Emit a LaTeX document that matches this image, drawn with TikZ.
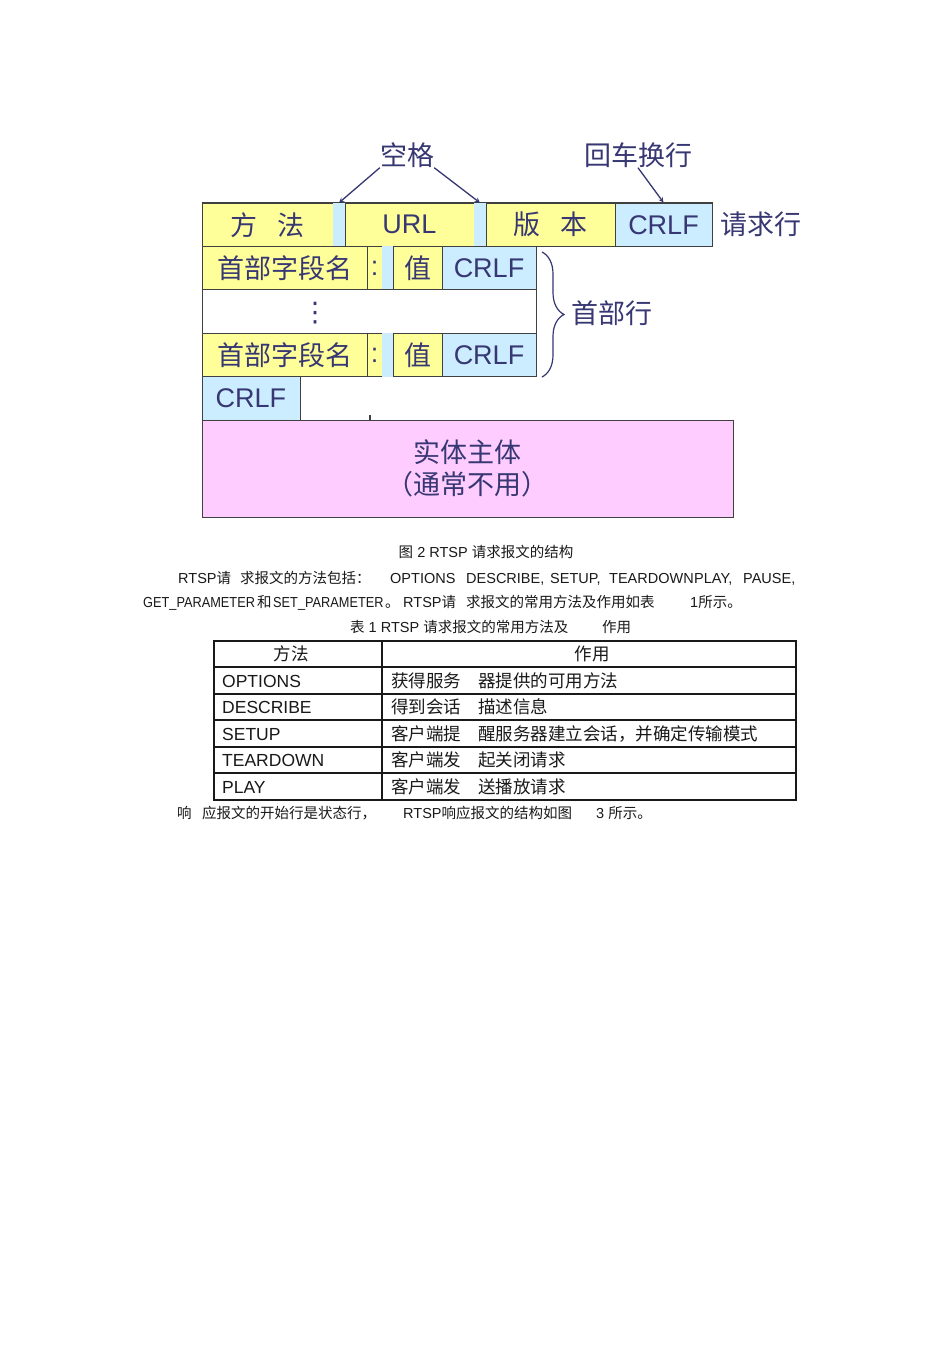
\documentclass[tikz,border=0pt]{standalone}
\usepackage{fontspec}
\setmainfont{Liberation Sans}
\newfontfamily\cjk{Noto Sans CJK SC}
\newfontfamily\symfont{DejaVu Sans}
\usepackage{graphicx}
\usepackage{tikz}
\usetikzlibrary{arrows, decorations.pathreplacing}
\definecolor{boxyellow}{RGB}{255,255,153}
\definecolor{boxblue}{RGB}{204,236,255}
\definecolor{boxpink}{RGB}{255,204,255}
\definecolor{navy}{RGB}{55,55,115}
\definecolor{edge}{RGB}{64,64,64}
\definecolor{ink}{RGB}{25,25,25}
\newcommand{\zh}[1]{{\cjk #1}}
\newcommand{\narrow}[1]{\scalebox{0.88}[1]{#1}}
\tikzstyle{ybox} = [rectangle, inner sep=0pt, minimum height=43.4pt, text centered, draw=edge, line width=1pt, fill=boxyellow, text=navy, font=\fontsize{27}{32}\selectfont]
\tikzstyle{bbox} = [ybox, fill=boxblue]
\tikzstyle{gapbox} = [rectangle, inner sep=0pt, minimum height=43.4pt, fill=boxblue]
\tikzstyle{navytext} = [inner sep=0pt, text=navy, font=\fontsize{27}{32}\selectfont]
\tikzstyle{arrow} = [navy, line width=1.3pt, ->, >=stealth]
\tikzstyle{para} = [anchor=base west, inner sep=0pt, text=ink, font=\fontsize{14.5}{17}\selectfont]
\tikzstyle{tabcell} = [anchor=base west, inner sep=0pt, text=ink, font=\fontsize{17.5}{20}\selectfont]

\begin{document}
\begin{tikzpicture}[x=1pt, y=-1pt]
\fill [white] (0,0) rectangle (950,1345);
\useasboundingbox (0,0) rectangle (950,1345);

% request line
\node (fangfa) [ybox, minimum width=131pt] at (267.5,224.7) {\zh{方\hspace{21pt}法}};
\node (gap1) [gapbox, minimum width=12pt] at (339,224.7) {};
\node (url) [ybox, minimum width=129pt] at (409.5,224.7) {URL};
\node (gap2) [gapbox, minimum width=12pt] at (480,224.7) {};
\node (banben) [ybox, minimum width=129pt] at (550.5,224.7) {\zh{版\hspace{20pt}本}};
\node (crlf1) [bbox, minimum width=97pt] at (663.5,224.7) {CRLF};
\node (qqh) [navytext, anchor=west] at (720,224.7) {\zh{请求行}};
\draw [edge, line width=1pt] (fangfa.north west) -- (crlf1.north east);

% header lines
\node (name1) [ybox, minimum width=165pt] at (284.5,268.1) {\zh{首部字段名}};
\node (colon1) [ybox, minimum width=15pt] at (374.5,268.1) {:};
\node (gap3) [gapbox, minimum width=11pt] at (387.5,268.1) {};
\node (val1) [ybox, minimum width=49pt] at (417.5,268.1) {\zh{值}};
\node (crlf2) [bbox, minimum width=94pt] at (489,268.1) {CRLF};
\node (dots) [ybox, fill=white, minimum width=334pt] at (369,311.5) {};
\node (vd) [navytext] at (315,313) {\symfont ⋮};
\node (name2) [ybox, minimum width=165pt] at (284.5,354.9) {\zh{首部字段名}};
\node (colon2) [ybox, minimum width=15pt] at (374.5,354.9) {:};
\node (gap4) [gapbox, minimum width=11pt] at (387.5,354.9) {};
\node (val2) [ybox, minimum width=49pt] at (417.5,354.9) {\zh{值}};
\node (crlf3) [bbox, minimum width=94pt] at (489,354.9) {CRLF};
\node (crlf4) [bbox, minimum width=98pt] at (251,398.3) {CRLF};
\draw [edge, line width=1.2pt] (370,415) -- (370,420);

% entity body
\node (entity) [ybox, fill=boxpink, minimum width=531pt, minimum height=97pt, align=center] at (467.5,468.5) {\zh{实体主体}\\\zh{（通常不用）}};

% labels
\node (kongge) [navytext] at (407,155) {\zh{空格}};
\node (huiche) [navytext] at (638,155) {\zh{回车换行}};
\draw [arrow] (kongge.south west) -- (gap1.north);
\draw [arrow] (kongge.south east) -- (gap2.north);
\draw [arrow] (huiche.south) -- (crlf1.north);
\coordinate (btop) at (542,252);
\coordinate (bbot) at (542,377);
\draw [navy, line width=1.2pt, decorate, decoration={brace, amplitude=22pt}] (btop) -- (bbot);
\node (sbh) [navytext, anchor=west] at (571,313) {\zh{首部行}};

% text below
\node (cap2) [para, anchor=base] at (486,557.5) {\zh{图} 2 RTSP \zh{请求报文的结构}};
\node (l1a) [para] at (178,583.5) {RTSP\zh{请}};
\node (l1b) [para] at (240,583.5) {\zh{求报文的方法包括：}};
\node (l1c) [para] at (390,583.5) {OPTIONS};
\node (l1d) [para] at (466,583.5) {DESCRIBE,};
\node (l1e) [para] at (550,583.5) {SETUP,};
\node (l1f) [para] at (609,583.5) {TEARDOWN};
\node (l1g) [para] at (694,583.5) {PLAY,};
\node (l1h) [para] at (743,583.5) {PAUSE,};
\node (l2a) [para] at (143,607.5) {\narrow{GET\_PARAMETER}};
\node (l2b) [para] at (257,607.5) {\zh{和}};
\node (l2c) [para] at (273,607.5) {\narrow{SET\_PARAMETER}};
\node (l2d) [para] at (385,607.5) {\zh{。}};
\node (l2e) [para] at (403,607.5) {RTSP\zh{请}};
\node (l2f) [para] at (466,607.5) {\zh{求报文的常用方法及作用如表}};
\node (l2g) [para] at (690,607.5) {1\zh{所示。}};
\node (cap1) [para] at (350,632.5) {\zh{表} 1 RTSP \zh{请求报文的常用方法及}};
\node (cap1b) [para] at (602,632.5) {\zh{作用}};

% table
\draw [ink, line width=1.6pt] (214,641) -- (796,641);
\draw [ink, line width=1.1pt] (214,641) rectangle (796,800);
\draw [ink, line width=1.1pt] (382,641) -- (382,800);
\draw [ink, line width=1.1pt] (214,667) -- (796,667);
\draw [ink, line width=1.1pt] (214,694) -- (796,694);
\draw [ink, line width=1.1pt] (214,720) -- (796,720);
\draw [ink, line width=1.1pt] (214,747) -- (796,747);
\draw [ink, line width=1.1pt] (214,773) -- (796,773);
\node (th1) [tabcell, anchor=base] at (291,660.5) {\zh{方法}};
\node (th2) [tabcell, anchor=base] at (592,660.5) {\zh{作用}};
\node (m1) [tabcell] at (222,687) {OPTIONS};
\node (u1a) [tabcell] at (391,687) {\zh{获得服务}};
\node (u1b) [tabcell] at (478,687) {\zh{器提供的可用方法}};
\node (m2) [tabcell] at (222,713.5) {DESCRIBE};
\node (u2a) [tabcell] at (391,713.5) {\zh{得到会话}};
\node (u2b) [tabcell] at (478,713.5) {\zh{描述信息}};
\node (m3) [tabcell] at (222,740) {SETUP};
\node (u3a) [tabcell] at (391,740) {\zh{客户端提}};
\node (u3b) [tabcell] at (478,740) {\zh{醒服务器建立会话，并确定传输模式}};
\node (m4) [tabcell] at (222,766.5) {TEARDOWN};
\node (u4a) [tabcell] at (391,766.5) {\zh{客户端发}};
\node (u4b) [tabcell] at (478,766.5) {\zh{起关闭请求}};
\node (m5) [tabcell] at (222,793) {PLAY};
\node (u5a) [tabcell] at (391,793) {\zh{客户端发}};
\node (u5b) [tabcell] at (478,793) {\zh{送播放请求}};
\node (l3a) [para] at (177,818.5) {\zh{响}};
\node (l3b) [para] at (202,818.5) {\zh{应报文的开始行是状态行，}};
\node (l3c) [para] at (403,818.5) {RTSP\zh{响应报文的结构如图}};
\node (l3d) [para] at (596,818.5) {3 \zh{所示。}};
\end{tikzpicture}
\end{document}
